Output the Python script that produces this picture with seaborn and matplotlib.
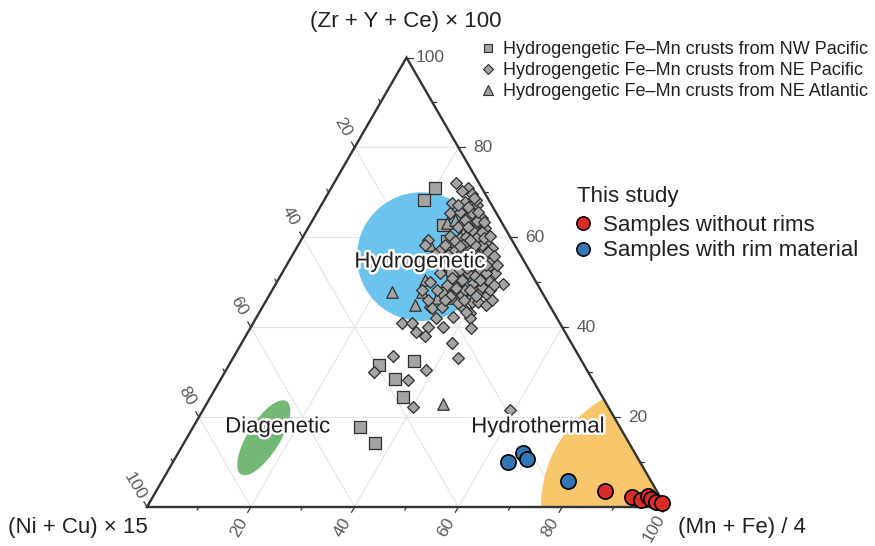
import numpy as np
import pandas as pd
import matplotlib
matplotlib.use("Agg")
import matplotlib.pyplot as plt
import matplotlib.patheffects as pe
from matplotlib.patches import Circle, Ellipse, Wedge
from matplotlib.lines import Line2D
import seaborn as sns

sns.set_theme(style="white")
plt.rcParams['font.family'] = ['Liberation Sans', 'DejaVu Sans']

# ---- data: (Zr+Y+Ce)x100 [%] = "top", (Mn+Fe)/4 [%] = "right"; (Ni+Cu)x15 = 100 - top - right
nw_top = [70.9, 68.2, 62.7, 59.1, 58.2, 50.0, 47.6, 54.4, 59.3, 64.9, 31.6, 32.4, 28.4, 24.4, 17.8, 14.2, 52.7]
nw_right = [20.0, 19.3, 25.7, 28.2, 32.7, 34.3, 32.9, 33.3, 34.5, 29.8, 28.9, 35.2, 33.6, 37.1, 32.1, 36.8, 32.4]

ne_top = [72.0, 70.9, 69.6, 67.6, 67.8, 67.1, 65.3, 65.6, 65.3, 64.4,
          63.1, 62.7, 62.0, 59.3, 60.4, 59.8, 60.0, 58.7, 57.1, 57.1,
          57.6, 56.7, 53.3, 52.7, 52.0, 52.7, 52.0, 50.0, 49.3, 49.8,
          49.8, 49.6, 47.1, 47.8, 47.1, 44.4, 44.4, 42.2, 43.1, 40.9,
          40.9, 40.0, 40.0, 44.2, 38.9, 38.0, 42.0, 39.8, 36.4, 33.1,
          33.6, 30.0, 30.4, 28.2, 22.2, 21.6, 68.2, 63.8, 63.6, 62.2,
          61.6, 61.1, 60.0, 59.1, 58.2, 57.6, 57.1, 56.7, 55.3, 56.4,
          58.2, 52.0, 50.4, 48.9, 54.4, 48.2, 54.4, 48.2, 46.9, 45.3,
          45.6, 48.2, 48.2, 46.0, 44.4, 65.6, 66.7, 59.8, 54.9, 54.4,
          53.8, 54.9, 53.8, 50.4, 50.9, 45.6, 44.9, 48.2, 56.7, 58.4,
          58.2, 58.2, 54.4, 53.1, 46.0, 46.0, 43.3, 42.0,
          70.4, 68.7, 67.1, 63.3, 62.4, 60.2, 59.3, 55.8, 55.3, 55.8,
          52.0, 51.3, 48.7, 49.3, 46.9, 46.0, 50.4, 53.8, 53.8, 58.0, 56.0]
ne_right = [23.5, 26.4, 27.8, 25.0, 27.4, 30.0, 25.7, 27.5, 30.0, 32.3,
            29.1, 31.9, 34.1, 24.5, 28.2, 30.4, 33.6, 36.2, 27.9, 30.8,
            32.9, 35.8, 39.1, 37.8, 35.9, 34.0, 30.5, 29.5, 33.2, 37.9,
            40.6, 43.8, 37.1, 40.3, 42.0, 32.3, 38.5, 37.9, 40.7, 28.7,
            30.6, 34.1, 37.0, 32.8, 32.4, 34.6, 41.2, 42.5, 40.6, 43.4,
            30.6, 28.7, 38.6, 36.2, 40.2, 59.1, 29.3, 29.4, 31.8, 28.8,
            31.8, 34.0, 31.5, 29.8, 35.4, 37.7, 34.3, 32.3, 37.5, 27.3,
            24.5, 41.1, 40.5, 40.1, 35.0, 37.2, 36.0, 42.0, 34.9, 37.3,
            39.8, 31.8, 28.9, 31.1, 34.6, 31.0, 28.5, 35.0, 39.0, 37.4,
            40.5, 31.3, 30.5, 35.5, 33.3, 41.0, 42.9, 38.1, 37.4, 34.0,
            31.8, 28.3, 32.7, 35.1, 34.4, 43.5, 39.8, 34.7,
            25.5, 28.7, 26.4, 33.3, 30.6, 36.0, 32.6, 35.9, 33.8, 39.0,
            39.3, 37.6, 35.2, 42.2, 39.9, 38.1, 39.0, 38.4, 35.7, 31.3, 30.0]

at_top = [47.8, 47.8, 44.9, 22.9, 46.4, 58.2, 50.4, 46.4, 63.1, 60.9, 63.8, 55.3, 55.3, 52.7, 49.3]
at_right = [23.3, 29.1, 29.2, 45.6, 35.8, 25.4, 28.4, 32.7, 26.3, 30.4, 27.4, 34.6, 28.8, 37.4, 34.7]

norim_top = [3.6, 2.2, 1.6, 2.4, 1.8, 1.1, 0.9]
norim_right = [86.5, 92.3, 94.4, 95.3, 96.2, 97.5, 98.8]

rim_top = [10.0, 12.0, 10.7, 5.8]
rim_right = [64.6, 66.4, 67.9, 78.2]

tick_values = [20, 40, 60, 80, 100]
axis_titles = ["(Zr + Y + Ce) × 100", "(Ni + Cu) × 15", "(Mn + Fe) / 4"]
legend_labels = ["Hydrogengetic Fe–Mn crusts from NW Pacific",
                 "Hydrogengetic Fe–Mn crusts from NE Pacific",
                 "Hydrogengetic Fe–Mn crusts from NE Atlantic"]
study_labels = ["Samples without rims", "Samples with rim material"]

H = np.sqrt(3) / 2


def to_xy(top, right):
    top = np.asarray(top, float)
    right = np.asarray(right, float)
    return right + top / 2, top * H


def frame(top, right):
    x, y = to_xy(top, right)
    return pd.DataFrame({"x": x, "y": y})


S = 5.19  # px per unit
fig = plt.figure(figsize=(8.75, 5.46), dpi=100)
ax = fig.add_axes([0, 0, 1, 1])
ax.set_xlim(-147 / S, (875 - 147) / S)
ax.set_ylim(-(546 - 507) / S, 507 / S)
ax.axis("off")

grid_c = "#e3e3e3"
for v in [20, 40, 60, 80]:
    x0, y0 = to_xy(v, 0)
    x1, y1 = to_xy(v, 100 - v)
    ax.plot([x0, x1], [y0, y1], color=grid_c, lw=0.8, zorder=1)
    x0, y0 = to_xy(0, v)
    x1, y1 = to_xy(100 - v, v)
    ax.plot([x0, x1], [y0, y1], color=grid_c, lw=0.8, zorder=1)
    x0, y0 = to_xy(100 - v, 0)
    x1, y1 = to_xy(0, 100 - v)
    ax.plot([x0, x1], [y0, y1], color=grid_c, lw=0.8, zorder=1)

# fields
cx, cy = to_xy(55.7, 25.0)
ax.add_patch(Circle((cx, cy), 12.4, facecolor="#6CC4EE", edgecolor="none", zorder=2))
ex, ey = to_xy(15.4, 14.8)
ax.add_patch(Ellipse((ex, ey), 16.6, 6.2, angle=58, facecolor="#73B874", edgecolor="none", zorder=2))
ax.add_patch(Wedge((100, 0), 24.1, 120, 180, facecolor="#F7C56A", edgecolor="none", zorder=2))

# triangle frame
edge_c = "#333333"
ax.plot([0, 100, 50, 0], [0, 0, 100 * H, 0], color=edge_c, lw=1.7, zorder=6,
        solid_joinstyle="miter", solid_capstyle="projecting", clip_on=False)

# ticks and tick labels
lab_c = "#5a5a5a"
off = 24 / S
for v in range(10, 101, 10):
    L = 1.2 if v % 20 == 0 else 0.7
    px, py = to_xy(v, 100 - v)
    d = np.array([1.0, 0.0])
    ax.plot([px, px + L * d[0]], [py, py + L * d[1]], color=edge_c, lw=0.9, zorder=6, clip_on=False)
    if v in tick_values:
        ax.text(px + off * d[0], py + off * d[1], f"{v}", color=lab_c, fontsize=12.5,
                ha="center", va="center", rotation=0, zorder=7)
    px, py = to_xy(100 - v, 0)
    d = np.array([-0.5, H])
    ax.plot([px, px + L * d[0]], [py, py + L * d[1]], color=edge_c, lw=0.9, zorder=6, clip_on=False)
    if v in tick_values:
        ax.text(px + off * d[0], py + off * d[1], f"{v}", color=lab_c, fontsize=12.5,
                ha="center", va="center", rotation=-60, rotation_mode="anchor", zorder=7)
    px, py = to_xy(0, v)
    d = np.array([-0.5, -H])
    ax.plot([px, px + L * d[0]], [py, py + L * d[1]], color=edge_c, lw=0.9, zorder=6, clip_on=False)
    if v in tick_values:
        ax.text(px + off * d[0], py + off * d[1], f"{v}", color=lab_c, fontsize=12.5,
                ha="center", va="center", rotation=60, rotation_mode="anchor", zorder=7)

# axis titles
txt_c = "#231f20"
ax.text((406 - 147) / S, (507 - 22) / S, axis_titles[0], fontsize=16, color=txt_c, ha="center", va="center")
ax.text((78 - 147) / S, (507 - 527) / S, axis_titles[1], fontsize=16, color=txt_c, ha="center", va="center")
ax.text((742 - 147) / S, (507 - 527) / S, axis_titles[2], fontsize=16, color=txt_c, ha="center", va="center")

# data points
gray = "#a4a4a4"
gedge = "#2e2e2e"
sns.scatterplot(data=frame(nw_top, nw_right), x="x", y="y", marker="s", s=70, color=gray,
                edgecolor=gedge, linewidth=0.9, ax=ax, zorder=8, legend=False, clip_on=False)
sns.scatterplot(data=frame(at_top, at_right), x="x", y="y", marker="^", s=68, color=gray,
                edgecolor=gedge, linewidth=0.9, ax=ax, zorder=8, legend=False, clip_on=False)
sns.scatterplot(data=frame(ne_top, ne_right), x="x", y="y", marker="D", s=36, color=gray,
                edgecolor=gedge, linewidth=0.9, ax=ax, zorder=8, legend=False, clip_on=False)
sns.scatterplot(data=frame(rim_top, rim_right), x="x", y="y", marker="o", s=120, color="#3276B4",
                edgecolor="black", linewidth=1.2, ax=ax, zorder=9, legend=False, clip_on=False)
sns.scatterplot(data=frame(norim_top, norim_right), x="x", y="y", marker="o", s=120, color="#D92B27",
                edgecolor="black", linewidth=1.2, ax=ax, zorder=9, legend=False, clip_on=False)

# field labels
stroke = [pe.withStroke(linewidth=3.5, foreground="white")]
ax.text((420 - 147) / S, (507 - 262) / S, "Hydrogenetic", fontsize=16, color=txt_c,
        ha="center", va="center", zorder=10, path_effects=stroke)
ax.text((278 - 147) / S, (507 - 427) / S, "Diagenetic", fontsize=16, color=txt_c,
        ha="center", va="center", zorder=10, path_effects=stroke)
ax.text((538 - 147) / S, (507 - 427) / S, "Hydrothermal", fontsize=16, color=txt_c,
        ha="center", va="center", zorder=10, path_effects=stroke)

# legends
h1 = [Line2D([], [], ls="", marker="s", ms=6.4, mfc=gray, mec=gedge, mew=0.8),
      Line2D([], [], ls="", marker="D", ms=4.6, mfc=gray, mec=gedge, mew=0.8),
      Line2D([], [], ls="", marker="^", ms=6.6, mfc=gray, mec=gedge, mew=0.8)]
leg1 = ax.legend(h1, legend_labels, loc="upper left", bbox_to_anchor=(480.8 / 875, 1 - 41 / 546),
                 bbox_transform=fig.transFigure, frameon=False, fontsize=13, handlelength=0.8,
                 handletextpad=0.43, labelspacing=0.22, borderpad=0, borderaxespad=0, labelcolor=txt_c)
ax.add_artist(leg1)
h2 = [Line2D([], [], ls="", marker="o", ms=9.6, mfc="#D92B27", mec="black", mew=1.1),
      Line2D([], [], ls="", marker="o", ms=9.6, mfc="#3276B4", mec="black", mew=1.1)]
leg2 = ax.legend(h2, study_labels, title="This study", loc="upper left",
                 bbox_to_anchor=(571 / 875, 1 - 180 / 546), bbox_transform=fig.transFigure,
                 frameon=False, fontsize=16, title_fontsize=16, handlelength=0.54,
                 handletextpad=0.63, labelspacing=0.2, borderpad=0.27, borderaxespad=0,
                 alignment="left", labelcolor=txt_c)
leg2.get_title().set_color(txt_c)
leg2._legend_box.sep = 0.2 * 16 + 2.6

fig.savefig("out.png", dpi=100)
